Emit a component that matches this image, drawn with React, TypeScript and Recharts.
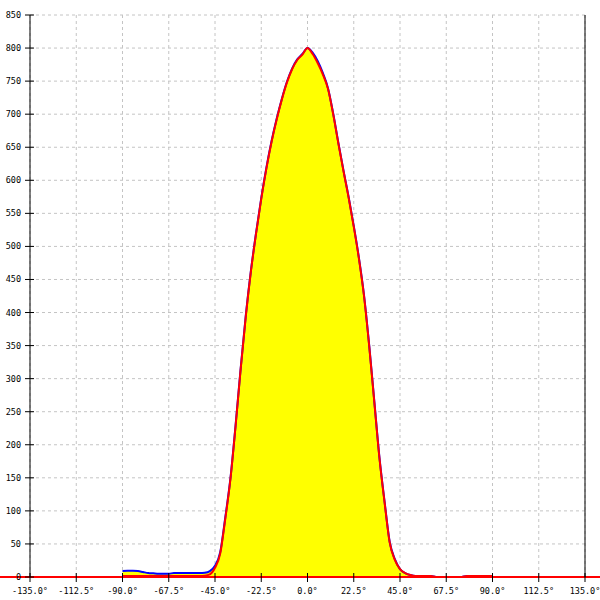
import React from "react";
import { ComposedChart, Area, Line, XAxis, YAxis, CartesianGrid, ReferenceLine } from "recharts";

// angle in degrees, every 2.5°
const angles = [
  -90, -87.5, -85, -82.5, -80, -77.5, -75, -72.5, -70, -67.5, -65, -62.5, -60, -57.5, -55, -52.5,
  -50, -47.5, -45, -42.5, -40, -37.5, -35, -32.5, -30, -27.5, -25, -22.5, -20, -17.5, -15, -12.5,
  -10, -7.5, -5, -2.5, 0, 2.5, 5, 7.5, 10, 12.5, 15, 17.5, 20, 22.5, 25, 27.5, 30, 32.5, 35, 37.5,
  40, 42.5, 45, 47.5, 50, 52.5, 55, 57.5, 60, 62.5, 65, 67.5, 70, 72.5, 75, 77.5, 80, 82.5, 85, 87.5, 90,
];

// red outline
const redValues = [
  1.5, 1.5, 1.5, 1.5, 1.5, 1.5, 1.5, 1.5, 1.5, 1.5, 1.5, 1.5, 1.5, 1.5, 1.5, 1.5,
  2, 4, 14, 35, 88, 148, 228, 315, 395, 463, 520, 572, 618, 658, 692, 722,
  748, 768, 782, 790, 800, 791, 777, 760, 738, 700, 656, 614, 574, 530, 482, 425, 350, 265, 180, 113,
  52, 26, 12, 6, 3, 1.5, 1.5, 1.5, 1.5, 0, 0, 0, 0, 0, 0, 1.5, 1.5, 1.5, 1.5, 1.5, 1.5,
];

// blue line (yellow filled below)
const blueValues = [
  9, 9.5, 9.5, 9, 7.5, 6, 5.5, 5, 5, 5, 6, 6, 6, 6, 6, 6,
  6.5, 9, 17, 37, 90, 149, 229, 316, 396, 464, 521, 573, 619, 659, 693, 723,
  749, 769, 783, 791, 800, 793, 780, 762, 739, 701, 657, 615, 575, 531, 483, 426, 351, 266, 181, 114,
  53, 27, 12, 6, 3, 1.5, 1.5, 1.5, 1.5, 0, 0, 0, 0, 0, 0, 1.5, 1.5, 1.5, 1.5, 1.5, 1.5,
];

const xTicks = [-135, -112.5, -90, -67.5, -45, -22.5, 0, 22.5, 45, 67.5, 90, 112.5, 135];
const yTicks = [0, 50, 100, 150, 200, 250, 300, 350, 400, 450, 500, 550, 600, 650, 700, 750, 800, 850];

const data = angles.map((a, i) => ({ angle: a, red: redValues[i], blue: blueValues[i] }));

const font = "'DejaVu Sans Mono', monospace";

const XTick = (props: any) => {
  const { x, y, payload } = props;
  return (
    <g>
      <line x1={x} x2={x} y1={y - 4} y2={y + 5} stroke="#000" />
      <text x={x} y={y + 17} textAnchor="middle" fontFamily={font} fontSize={8.5} fill="#000">
        {payload.value.toFixed(1)}°
      </text>
    </g>
  );
};

const YTick = (props: any) => {
  const { x, y, payload } = props;
  return (
    <g>
      <line x1={x - 5} x2={x + 4} y1={y} y2={y} stroke="#000" />
      <text x={x - 9} y={y} dy="0.35em" textAnchor="end" fontFamily={font} fontSize={8.5} fill="#000">
        {payload.value}
      </text>
    </g>
  );
};

export default function App() {
  return (
    <div style={{ position: "absolute", left: 0, top: 0, width: 600, height: 600, background: "#fff" }}>
      <ComposedChart width={600} height={600} data={data} margin={{ top: 15, right: 14, bottom: 0, left: 0 }}>
        <CartesianGrid yAxisId="left" stroke="#c4c4c4" strokeDasharray="3 3" />
        <XAxis
          dataKey="angle"
          type="number"
          domain={[-135, 135]}
          ticks={xTicks}
          interval={0}
          axisLine={false}
          tickLine={false}
          tickSize={0}
          tickMargin={0}
          height={23}
          tick={<XTick />}
        />
        <YAxis
          yAxisId="left"
          domain={[0, 850]}
          ticks={yTicks}
          interval={0}
          width={30}
          axisLine={{ stroke: "#000" }}
          tickLine={false}
          tickSize={0}
          tickMargin={0}
          tick={<YTick />}
        />
        <YAxis
          yAxisId="right"
          orientation="right"
          domain={[0, 850]}
          width={1}
          tick={false}
          tickLine={false}
          axisLine={{ stroke: "#000" }}
        />
        <Area
          yAxisId="left"
          type="monotone"
          dataKey="blue"
          stroke="#0000ff"
          strokeWidth={2}
          fill="#ffff00"
          fillOpacity={1}
          dot={false}
          activeDot={false}
          isAnimationActive={false}
        />
        <Line
          yAxisId="left"
          type="monotone"
          dataKey="red"
          stroke="#ff0000"
          strokeWidth={2}
          dot={false}
          activeDot={false}
          isAnimationActive={false}
        />
        <ReferenceLine
          yAxisId="left"
          segment={[{ x: -150, y: 0 }, { x: 143, y: 0 }]}
          ifOverflow="visible"
          stroke="#ff0000"
          strokeWidth={2}
        />
      </ComposedChart>
    </div>
  );
}
